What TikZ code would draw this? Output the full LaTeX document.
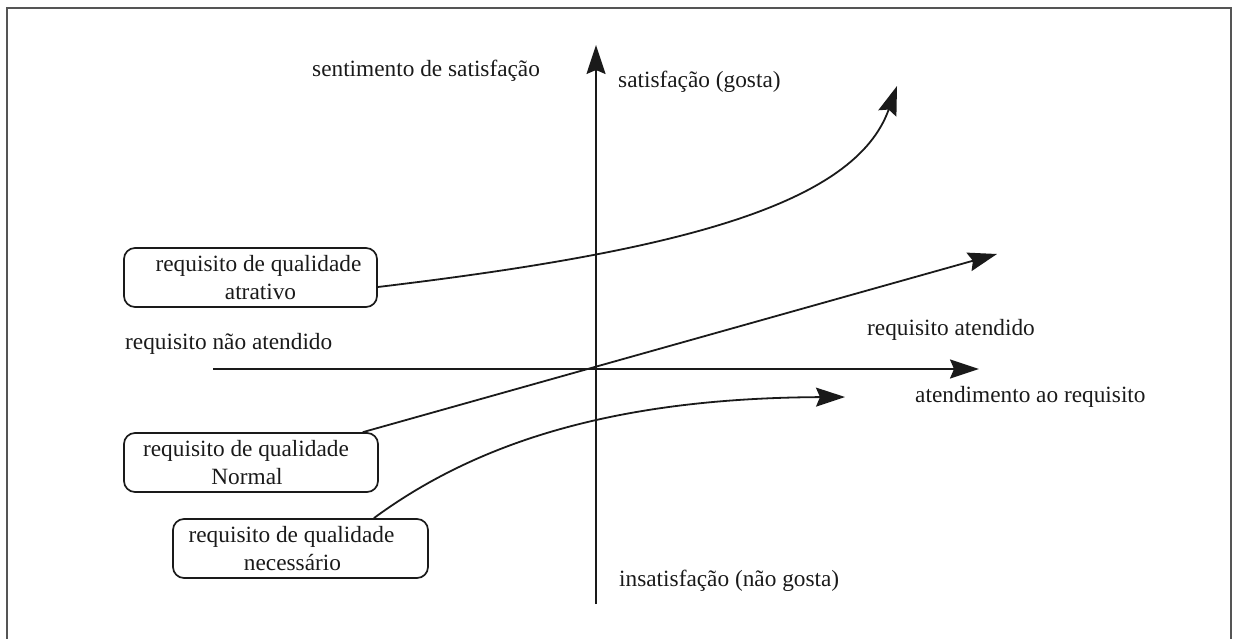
\documentclass[tikz,border=0pt]{standalone}
\usepackage{fontspec}
\setmainfont{Liberation Serif}
\usetikzlibrary{arrows.meta}
\definecolor{ink}{HTML}{1A1A1A}
\definecolor{framec}{HTML}{555555}
\begin{document}
\begin{tikzpicture}[x=1pt,y=-1pt,
  every node/.style={font=\fontsize{23.3}{28.5}\selectfont, text=ink},
  lbl/.style={anchor=base west, inner sep=0pt},
  reqbox/.style={draw=ink, line width=1.7pt, rounded corners=11pt, minimum height=59pt, align=center, inner sep=0pt},
  conn/.style={draw=ink, line width=1.8pt},
  arr/.style={conn, -{Stealth[length=29pt,width=19pt,inset=4pt]}}]
\useasboundingbox (0,0) rectangle (1233,639);
\draw[framec, line width=1.5pt] (7,639) -- (7,8) -- (1231,8) -- (1231,639);

% axes
\coordinate (ybot) at (596,604);
\coordinate (ytop) at (596,45);
\coordinate (xl) at (213,369);
\coordinate (xr) at (979,369);
\draw[arr, line width=1.6pt] (ybot) -- (ytop);
\draw[arr, line width=1.6pt] (xl) -- (xr);

% labels
\node[lbl] (l1) at (312,77) {sentimento de satisfação};
\node[lbl] (l2) at (618,88) {satisfação (gosta)};
\node[lbl] (l3) at (125,349) {requisito não atendido};
\node[lbl] (l4) at (867,335) {requisito atendido};
\node[lbl] (l5) at (915,402) {atendimento ao requisito};
\node[lbl] (l6) at (619,586) {insatisfação (não gosta)};

% boxes
\node[reqbox, minimum width=253pt] (atr) at (250.5,277.5) {\hspace*{16pt}requisito de qualidade\\\hspace*{20pt}atrativo};
\node[reqbox, minimum width=254pt] (nor) at (251,462.5) {requisito de qualidade\hspace*{10pt}\\Normal\hspace*{8pt}};
\node[reqbox, minimum width=255pt] (nec) at (300.5,548.5) {requisito de qualidade\hspace*{18pt}\\necessário\hspace*{16pt}};

% curves
\coordinate (tatr) at (897,86);
\coordinate (tnor) at (997,254);
\coordinate (tnec) at (845,397);
\draw[arr] ([yshift=-9.5pt]atr.east) .. controls (679,251) and (855,205) .. (tatr);
\draw[arr] ([xshift=-16pt]nor.north east) -- (tnor);
\draw[arr] ([xshift=-55pt]nec.north east) .. controls (480,440) and (620,398) .. (tnec);
\end{tikzpicture}
\end{document}
